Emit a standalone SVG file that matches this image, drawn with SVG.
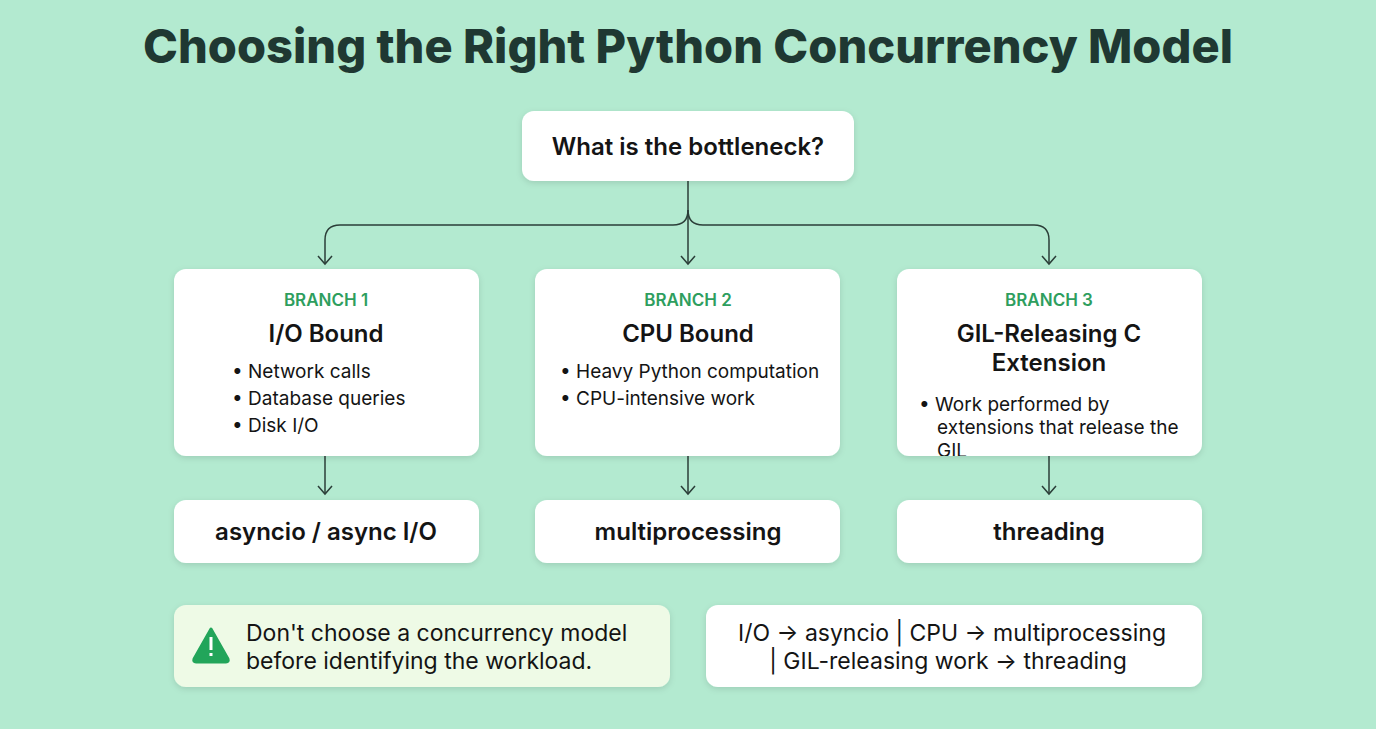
<svg xmlns="http://www.w3.org/2000/svg" width="1376" height="729" viewBox="0 0 1376 729">
<defs>
<style>
text{font-family:Inter,"Noto Sans","Liberation Sans",sans-serif;fill:#141414}
.box{fill:#fff}
.title{font-size:47px;font-weight:800;fill:#1f3832;text-anchor:middle}
.lab{font-size:17px;font-weight:600;fill:#2e9e5e;text-anchor:middle}
.hd{font-size:24px;font-weight:600;text-anchor:middle}
.bl{font-size:19px}
.res{font-size:24px;font-weight:600;text-anchor:middle}
.note{font-size:23px}
.con{fill:none;stroke:#2b3e38;stroke-width:1.5}
</style>
<filter id="sh" x="-10%" y="-10%" width="120%" height="130%"><feDropShadow dx="0" dy="2" stdDeviation="3" flood-color="#000" flood-opacity="0.12"/></filter>
<marker id="ar" markerWidth="12" markerHeight="16" refX="9" refY="8" orient="auto" markerUnits="userSpaceOnUse"><path d="M1 1 L9 8 L1 15" fill="none" stroke="#2b3e38" stroke-width="1.5"/></marker>
<clipPath id="c3"><rect x="897" y="269" width="305" height="187" rx="12"/></clipPath>
</defs>
<rect width="1376" height="729" fill="#b3ead0"/>
<text class="title" x="688" y="63">Choosing the Right Python Concurrency Model</text>
<g id="connectors">
<path class="con" d="M688 181 V264" marker-end="url(#ar)"/>
<path class="con" d="M688 210 Q688 225 673 225 H340 Q325 225 325 240 V264" marker-end="url(#ar)"/>
<path class="con" d="M688 210 Q688 225 703 225 H1034 Q1049 225 1049 240 V264" marker-end="url(#ar)"/>
<path class="con" d="M325 456 V494" marker-end="url(#ar)"/>
<path class="con" d="M688 456 V494" marker-end="url(#ar)"/>
<path class="con" d="M1049 456 V494" marker-end="url(#ar)"/>
</g>
<g id="root"><rect class="box" x="522" y="111" width="332" height="70" rx="12" filter="url(#sh)"/><text class="hd" x="688" y="155">What is the bottleneck?</text></g>
<g id="branch1"><rect class="box" x="174" y="269" width="305" height="187" rx="12" filter="url(#sh)"/>
<text class="lab" x="326" y="306">BRANCH 1</text><text class="hd" x="326" y="342">I/O Bound</text>
<text class="bl" x="232" y="378">• Network calls</text><text class="bl" x="232" y="405">• Database queries</text><text class="bl" x="232" y="432">• Disk I/O</text></g>
<g id="branch2"><rect class="box" x="535" y="269" width="305" height="187" rx="12" filter="url(#sh)"/>
<text class="lab" x="688" y="306">BRANCH 2</text><text class="hd" x="688" y="342">CPU Bound</text>
<text class="bl" x="560" y="378">• Heavy Python computation</text><text class="bl" x="560" y="405">• CPU-intensive work</text></g>
<g id="branch3"><rect class="box" x="897" y="269" width="305" height="187" rx="12" filter="url(#sh)"/>
<text class="lab" x="1049" y="306">BRANCH 3</text><text class="hd" x="1049" y="342">GIL-Releasing C</text><text class="hd" x="1049" y="371">Extension</text>
<g clip-path="url(#c3)"><text class="bl" x="919" y="411">• Work performed by</text><text class="bl" x="937" y="434">extensions that release the</text><text class="bl" x="937" y="457">GIL</text></g></g>
<g id="res1"><rect class="box" x="174" y="500" width="305" height="63" rx="12" filter="url(#sh)"/><text class="res" x="326" y="540">asyncio / async I/O</text></g>
<g id="res2"><rect class="box" x="535" y="500" width="305" height="63" rx="12" filter="url(#sh)"/><text class="res" x="688" y="540">multiprocessing</text></g>
<g id="res3"><rect class="box" x="897" y="500" width="305" height="63" rx="12" filter="url(#sh)"/><text class="res" x="1049" y="540">threading</text></g>
<g id="warning"><rect x="174" y="605" width="496" height="82" rx="12" fill="#eefae6" filter="url(#sh)"/>
<path d="M211 629 L228 659 Q229 662 226 662 H196 Q193 662 194 659 Z" fill="#22a55a" stroke="#22a55a" stroke-width="3" stroke-linejoin="round"/>
<rect x="209.5" y="637" width="3" height="13" fill="#fff"/><rect x="209.5" y="653" width="3" height="3" fill="#fff"/>
<text class="note" x="246" y="641">Don't choose a concurrency model</text><text class="note" x="246" y="669">before identifying the workload.</text></g>
<g id="summary"><rect class="box" x="706" y="605" width="496" height="82" rx="12" filter="url(#sh)"/>
<text class="note" x="952" y="641" text-anchor="middle">I/O → asyncio | CPU → multiprocessing</text><text class="note" x="948" y="669" text-anchor="middle">| GIL-releasing work → threading</text></g>
</svg>
